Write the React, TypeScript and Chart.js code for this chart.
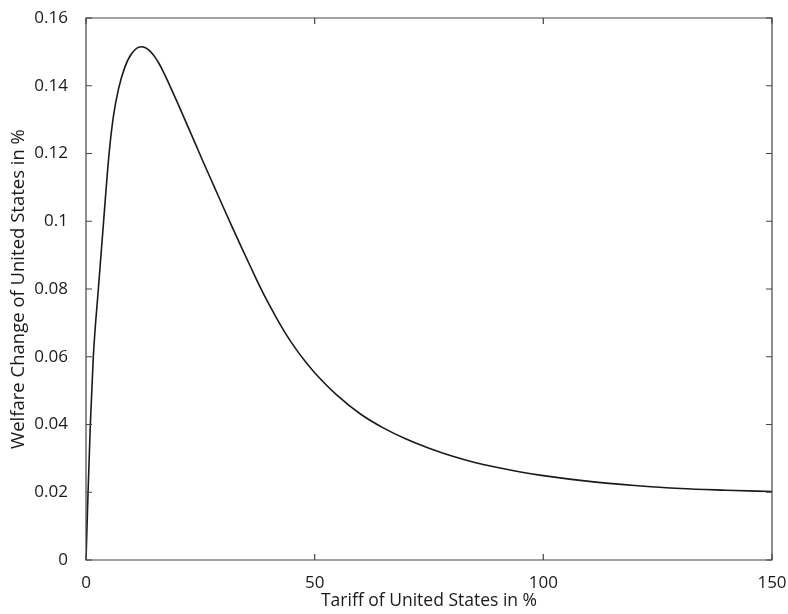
import React, { useEffect, useRef } from "react";
import { Chart, registerables } from "chart.js";

Chart.register(...registerables);

const tariffValues = [0, 0.45, 0.95, 1.6, 2.7, 3.85, 5.05, 6.0, 7.1, 8.5, 10, 12, 13, 14, 15, 16, 17, 18, 20, 22, 24, 26, 28, 30, 32, 34, 36, 38, 40, 42, 44, 46, 48, 50, 55, 60, 65, 70, 75, 80, 85, 90, 95, 100, 110, 120, 130, 140, 150];
const welfareValues = [0, 0.02, 0.04, 0.06, 0.08, 0.1, 0.12, 0.131, 0.139, 0.1455, 0.1495, 0.1515, 0.1512, 0.1502, 0.1486, 0.1465, 0.1439, 0.141, 0.135, 0.1288, 0.1226, 0.1164, 0.1103, 0.1042, 0.0982, 0.0923, 0.0865, 0.0808, 0.0755, 0.0706, 0.0661, 0.0621, 0.0585, 0.0553, 0.0485, 0.0431, 0.039, 0.0357, 0.033, 0.0307, 0.0288, 0.0273, 0.026, 0.0249, 0.0232, 0.022, 0.0211, 0.0206, 0.0202];
const xTitle = "Tariff of United States in %";
const yTitle = "Welfare Change of United States in %";

const FONT = "'Open Sans', 'Noto Sans', sans-serif";
const TEXT = "#1a1a1a";

const framePlugin = {
  id: "frameTicks",
  afterDraw(chart: any) {
    const { ctx, chartArea } = chart;
    const { left, right, top, bottom } = chartArea;
    const xs = chart.scales.x;
    const ys = chart.scales.y;
    const len = 6;
    ctx.save();
    ctx.strokeStyle = "#444";
    ctx.lineWidth = 1.2;
    ctx.beginPath();
    ctx.rect(left, top, right - left, bottom - top);
    ctx.stroke();
    ctx.beginPath();
    xs.ticks.forEach((t: any) => {
      const px = xs.getPixelForValue(t.value);
      ctx.moveTo(px, bottom);
      ctx.lineTo(px, bottom - len);
      ctx.moveTo(px, top);
      ctx.lineTo(px, top + len);
    });
    ys.ticks.forEach((t: any) => {
      const py = ys.getPixelForValue(t.value);
      ctx.moveTo(left, py);
      ctx.lineTo(left + len, py);
      ctx.moveTo(right, py);
      ctx.lineTo(right - len, py);
    });
    ctx.stroke();
    ctx.restore();
  },
};

export default function App() {
  const ref = useRef<HTMLCanvasElement | null>(null);
  useEffect(() => {
    if (!ref.current) return;
    const chart = new Chart(ref.current, {
      type: "line",
      data: {
        datasets: [
          {
            data: tariffValues.map((x, i) => ({ x, y: welfareValues[i] })),
            borderColor: "#1a1a1a",
            borderWidth: 1.6,
            pointRadius: 0,
            fill: false,
            cubicInterpolationMode: "monotone",
          },
        ],
      },
      options: {
        animation: false,
        responsive: true,
        maintainAspectRatio: false,
        layout: { padding: { left: 0, right: 16, top: 18, bottom: 0 } },
        plugins: { legend: { display: false }, tooltip: { enabled: false } },
        scales: {
          x: {
            type: "linear",
            min: 0,
            max: 150,
            grid: { display: false },
            border: { display: false },
            ticks: {
              stepSize: 50,
              padding: 5,
              color: TEXT,
              font: { family: FONT, size: 17 },
              maxRotation: 0,
            },
            title: {
              display: true,
              text: xTitle,
              color: TEXT,
              font: { family: FONT, size: 17.5 },
              padding: { top: 0, bottom: 2 },
            },
            afterFit: (s: any) => {
              s.height = 54;
              s.paddingLeft = 0;
              s.paddingRight = 0;
            },
          },
          y: {
            type: "linear",
            min: 0,
            max: 0.16,
            grid: { display: false },
            border: { display: false },
            ticks: {
              stepSize: 0.02,
              padding: 10,
              color: TEXT,
              font: { family: FONT, size: 17 },
              callback: (v: any) => String(+Number(v).toFixed(2)),
            },
            title: {
              display: true,
              text: yTitle,
              color: TEXT,
              font: { family: FONT, size: 18.5 },
              padding: { top: 8, bottom: 0 },
            },
            afterFit: (s: any) => {
              s.width = 86;
              s.paddingTop = 0;
              s.paddingBottom = 0;
            },
          },
        },
      },
      plugins: [framePlugin],
    } as any);
    return () => chart.destroy();
  }, []);
  return (
    <div style={{ position: "fixed", left: 0, top: 0, width: 788, height: 614, background: "#fff" }}>
      <canvas ref={ref} />
    </div>
  );
}
